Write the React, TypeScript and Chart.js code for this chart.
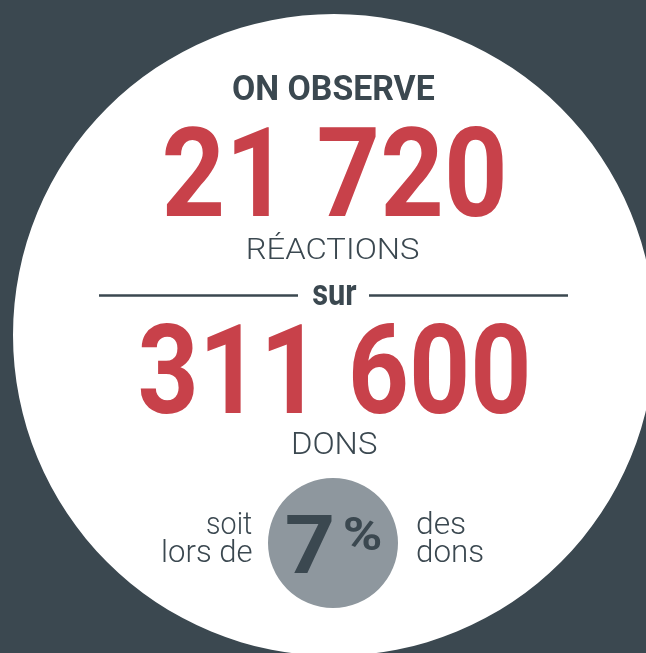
import React, { useEffect, useRef } from "react";
import { Chart, registerables } from "chart.js";

Chart.register(...registerables);

// ---------- data ----------
const headline = "ON OBSERVE";
const metricLabels = ["RÉACTIONS", "DONS"];
const metricValues = [21720, 311600];
const connector = "sur";
const shareValues = [7];
const shareUnit = "%";
const leftPhrase = ["soit", "lors de"];
const rightPhrase = ["des", "dons"];

// ---------- style ----------
const W = 646;
const H = 653;
const BG = "#3b4850";
const DARK = "#3b4850";
const RED = "#c8414a";
const GREY = "#8e979e";
const FONT = "Roboto, 'Noto Sans', sans-serif";

const fmt = (n: number) => String(n).replace(/\B(?=(\d{3})+(?!\d))/g, " ");

type TextSpec = {
  text: string;
  weight: number;
  size: number;
  left?: number;
  right?: number;
  width: number;
  baseline: number;
  color: string;
};

function fitText(ctx: CanvasRenderingContext2D, s: TextSpec) {
  ctx.font = `${s.weight} ${s.size}px ${FONT}`;
  const m = ctx.measureText(s.text);
  const inkW = m.actualBoundingBoxLeft + m.actualBoundingBoxRight;
  const sx = s.width / inkW;
  const L = s.left !== undefined ? s.left : (s.right as number) - s.width;
  ctx.save();
  ctx.translate(L, s.baseline);
  ctx.scale(sx, 1);
  ctx.textAlign = "left";
  ctx.textBaseline = "alphabetic";
  ctx.fillStyle = s.color;
  ctx.fillText(s.text, m.actualBoundingBoxLeft, 0);
  ctx.restore();
}

export default function App() {
  const bigRef = useRef<HTMLCanvasElement>(null);
  const smallRef = useRef<HTMLCanvasElement>(null);

  useEffect(() => {
    document.body.style.margin = "0";

    const specs: TextSpec[] = [
      { text: headline, weight: 700, size: 35, left: 233, width: 201, baseline: 100, color: DARK },
      { text: fmt(metricValues[0]), weight: 700, size: 124, left: 165, width: 338, baseline: 216, color: RED },
      { text: metricLabels[0], weight: 300, size: 29.5, left: 248, width: 171, baseline: 259, color: DARK },
      { text: connector, weight: 700, size: 37, left: 313, width: 44, baseline: 305, color: DARK },
      { text: fmt(metricValues[1]), weight: 700, size: 124, left: 140, width: 387, baseline: 413, color: RED },
      { text: metricLabels[1], weight: 300, size: 31, left: 293, width: 84, baseline: 454, color: DARK },
      { text: leftPhrase[0], weight: 300, size: 32, right: 252, width: 45, baseline: 534, color: DARK },
      { text: leftPhrase[1], weight: 300, size: 32, left: 163, width: 89, baseline: 562, color: DARK },
      { text: rightPhrase[0], weight: 300, size: 32, left: 417, width: 48, baseline: 534, color: DARK },
      { text: rightPhrase[1], weight: 300, size: 32, left: 417, width: 66, baseline: 562, color: DARK },
      { text: String(shareValues[0]), weight: 700, size: 82, left: 287, width: 45, baseline: 573, color: DARK },
      { text: shareUnit, weight: 700, size: 46, left: 345, width: 35, baseline: 550, color: DARK },
    ];

    const textPlugin = {
      id: "infoTexts",
      afterDraw(chart: any) {
        const ctx: CanvasRenderingContext2D = chart.ctx;
        // rules around "sur"
        ctx.save();
        ctx.strokeStyle = DARK;
        ctx.lineWidth = 2.5;
        ctx.beginPath();
        ctx.moveTo(99, 295.5);
        ctx.lineTo(298, 295.5);
        ctx.moveTo(369, 295.5);
        ctx.lineTo(568, 295.5);
        ctx.stroke();
        ctx.restore();
        specs.forEach((s) => fitText(ctx, s));
      },
    };

    const big = new Chart(bigRef.current as HTMLCanvasElement, {
      type: "pie",
      data: {
        labels: [metricLabels[1]],
        datasets: [{ data: [metricValues[1]], backgroundColor: ["#ffffff"], borderWidth: 0 }],
      },
      options: {
        responsive: false,
        animation: false,
        events: [],
        layout: { padding: 0 },
        plugins: { legend: { display: false }, tooltip: { enabled: false } },
      },
    });

    const small = new Chart(smallRef.current as HTMLCanvasElement, {
      type: "pie",
      data: {
        labels: [shareUnit],
        datasets: [{ data: [shareValues[0]], backgroundColor: [GREY], borderWidth: 0 }],
      },
      options: {
        responsive: false,
        animation: false,
        events: [],
        layout: { padding: { left: 268, top: 478, right: W - 398, bottom: H - 608 } },
        plugins: { legend: { display: false }, tooltip: { enabled: false } },
      },
      plugins: [textPlugin],
    });

    return () => {
      big.destroy();
      small.destroy();
    };
  }, []);

  return (
    <div
      style={{
        position: "fixed",
        left: 0,
        top: 0,
        width: W,
        height: H,
        overflow: "hidden",
        background: BG,
      }}
    >
      <canvas
        ref={bigRef}
        width={642}
        height={642}
        style={{ position: "absolute", left: 13, top: 14 }}
      />
      <canvas
        ref={smallRef}
        width={W}
        height={H}
        style={{ position: "absolute", left: 0, top: 0 }}
      />
    </div>
  );
}
